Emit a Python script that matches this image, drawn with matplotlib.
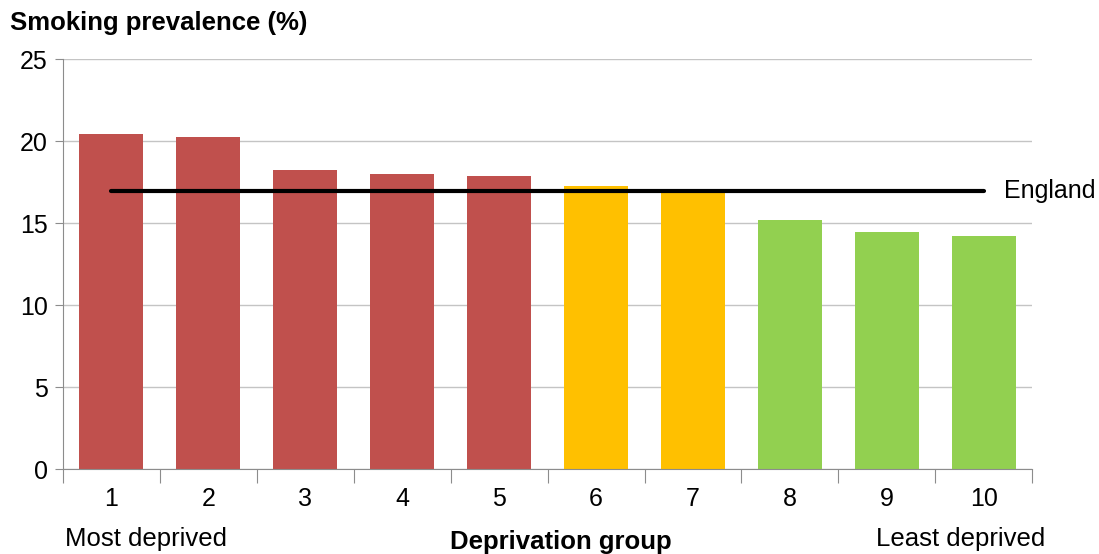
import numpy as np
import matplotlib.pyplot as plt

plt.rcParams['font.family'] = ['Liberation Sans', 'DejaVu Sans']

# Smoking prevalence by deprivation group
groups = ['1', '2', '3', '4', '5', '6', '7', '8', '9', '10']
prevalence = [20.43, 20.28, 18.25, 18.0, 17.88, 17.29, 16.9, 15.18, 14.49, 14.24]
bar_colors = ['#C0504D'] * 5 + ['#FFC000'] * 2 + ['#92D050'] * 3
england = 16.95

fig = plt.figure(figsize=(10.99, 5.54), dpi=100)
ax = fig.add_axes([0.0573, 0.153, 0.882, 0.740])

x = np.arange(1, len(groups) + 1)
ax.bar(x, prevalence, width=0.66, color=bar_colors, zorder=2)

# England average line from first to last group centre
ax.plot([x[0], x[-1]], [england, england], color='black', linewidth=3,
        solid_capstyle='round', zorder=3)
ax.text(x[-1] + 0.21, england, 'England', fontsize=18, va='center', ha='left')

ax.set_xlim(0.5, len(groups) + 0.5)
ax.set_ylim(0, 25)
ax.set_yticks(range(0, 26, 5))
ax.yaxis.grid(True, color='#C4C4C4', linewidth=1, zorder=0)
ax.set_axisbelow(True)

# tick marks at category boundaries, labels at centres
ax.set_xticks(np.arange(0.5, len(groups) + 1, 1))
ax.set_xticklabels([])
ax.set_xticks(x, minor=True)
ax.set_xticklabels(groups, minor=True, fontsize=18)
ax.tick_params(axis='x', which='major', length=10, color='#8C8C8C', direction='out')
ax.tick_params(axis='x', which='minor', length=0, pad=13)
ax.tick_params(axis='y', length=6, color='#8C8C8C', labelsize=18, pad=5)

for side in ['top', 'right']:
    ax.spines[side].set_visible(False)
for side in ['left', 'bottom']:
    ax.spines[side].set_color('#8C8C8C')

fig.text(0.009, 0.958, 'Smoking prevalence (%)', fontsize=18.5, fontweight='bold', va='center')
fig.text(0.059, 0.027, 'Most deprived', fontsize=18.5, va='center', ha='left')
fig.text(0.510, 0.022, 'Deprivation group', fontsize=18.5, fontweight='bold', va='center', ha='center')
fig.text(0.951, 0.027, 'Least deprived', fontsize=18.5, va='center', ha='right')

fig.savefig('out.png', dpi=100)
